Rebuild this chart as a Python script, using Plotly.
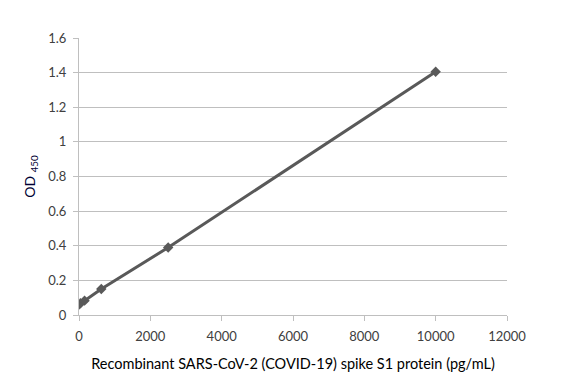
import plotly.graph_objects as go

conc = [0, 39, 156, 625, 2500, 10000]
od450 = [0.06, 0.068, 0.083, 0.15, 0.39, 1.405]
x_ticks = [0, 2000, 4000, 6000, 8000, 10000, 12000]
y_ticks = [0, 0.2, 0.4, 0.6, 0.8, 1, 1.2, 1.4, 1.6]

fig = go.Figure(go.Scatter(
    x=conc, y=od450, mode="lines+markers",
    line=dict(color="#595959", width=3),
    marker=dict(symbol="diamond", size=8, color="#595959"),
    showlegend=False,
))

font = "Lato, Open Sans, sans-serif"
fig.update_layout(
    width=582, height=382,
    margin=dict(l=71, r=83, t=30, b=75),
    paper_bgcolor="white", plot_bgcolor="white",
    font=dict(family=font, size=13, color="#404040"),
    xaxis=dict(
        range=[0, 12000], tickvals=x_ticks, ticktext=[str(v) for v in x_ticks],
        showgrid=False, zeroline=False, showline=True, linecolor="#bfbfbf", linewidth=1,
        ticks="outside", ticklen=5, tickcolor="#bfbfbf", ticklabelstandoff=4,
        title=dict(text="Recombinant SARS-CoV-2 (COVID-19) spike S1 protein (pg/mL)",
                   font=dict(size=14.5, color="#000000"), standoff=16),
    ),
    yaxis=dict(
        range=[0, 1.6], tickvals=y_ticks, ticktext=["0", "0.2", "0.4", "0.6", "0.8", "1", "1.2", "1.4", "1.6"],
        showgrid=True, gridcolor="#bfbfbf", gridwidth=1, zeroline=False,
        showline=True, linecolor="#bfbfbf", linewidth=1,
        ticks="outside", ticklen=5, tickcolor="#bfbfbf", ticklabelstandoff=4,
        title=dict(text="OD <sub>450</sub>", font=dict(size=14, color="#000033"), standoff=9),
    ),
)
fig.write_html("out.html")
